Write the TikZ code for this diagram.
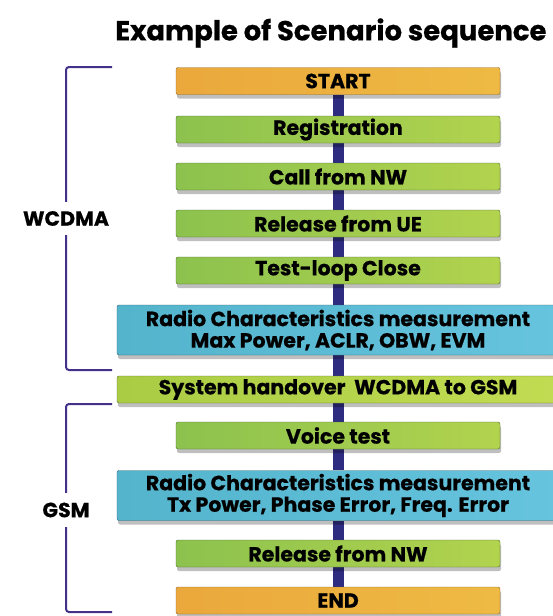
\documentclass[tikz,border=0pt]{standalone}
\usepackage{fontspec}
\setmainfont{Poppins}[BoldFeatures={FakeBold=0.6}]
\usetikzlibrary{shadows,backgrounds}
\definecolor{seqbar}{HTML}{2E2C80}
\definecolor{seqbrk}{HTML}{43318A}
\definecolor{seqorgA}{HTML}{EBA83C}
\definecolor{seqorgB}{HTML}{F3D64E}
\definecolor{seqgrnA}{HTML}{8CC24E}
\definecolor{seqgrnB}{HTML}{A9D25A}
\definecolor{seqgrnC}{HTML}{B2D34E}
\definecolor{seqlimA}{HTML}{A9CC44}
\definecolor{seqlimB}{HTML}{C2DC52}
\definecolor{seqbluA}{HTML}{54B4CC}
\definecolor{seqbluB}{HTML}{66C4DE}

\begin{document}
\begin{tikzpicture}[x=1pt, y=-1pt, font=\bfseries\fontsize{20.5}{21.5}\selectfont,
  box/.style={rounded corners=2pt, inner sep=0pt, align=center, minimum height=27pt,
    drop shadow={shadow xshift=1pt, shadow yshift=-4pt, opacity=0.25, fill=black}},
  endbox/.style={box, minimum width=324pt, left color=seqorgA, middle color=seqorgB, right color=seqorgA!60!seqorgB, draw=seqorgA!60!black, line width=0.4pt},
  stepbox/.style={box, minimum width=324pt, left color=seqgrnA, middle color=seqgrnB, right color=seqgrnC, draw=seqgrnA!55!black, line width=0.4pt},
  hobox/.style={box, minimum width=442pt, left color=seqlimA, right color=seqlimB, draw=seqlimA!55!black, line width=0.4pt},
  radbox/.style={box, minimum width=442pt, minimum height=50pt, left color=seqbluA, right color=seqbluB, draw=seqbluA!55!black, line width=0.4pt},
  bar/.style={seqbar, line width=11pt},
  brk/.style={seqbrk, line width=2pt, rounded corners=3pt},
  tech/.style={inner sep=0pt, minimum width=60pt},
  ttl/.style={font=\bfseries\fontsize{27.5}{29}\selectfont}]
  \useasboundingbox (0,0) rectangle (553,616);
  % ---- title ----
  \node[ttl, anchor=east] (title) at (550,33) {Example of Scenario sequence};
  % ---- WCDMA part ----
  \node[endbox] (start) at (338,81) {START};
  \node[stepbox] (reg) at (338,129.5) {Registration};
  \node[stepbox] (call) at (338,176.5) {Call from NW};
  \node[stepbox] (relue) at (338,223.5) {Release from UE};
  \node[stepbox] (loop) at (338,270.5) {Test-loop Close};
  \node[radbox] (radw) at (338,330) {Radio Characteristics measurement\\Max Power, ACLR, OBW, EVM};
  \node[hobox] (ho) at (338,389.5) {System handover\ \ WCDMA to GSM};
  % ---- GSM part ----
  \node[stepbox] (voice) at (338,435.5) {Voice test};
  \node[radbox] (radg) at (338,495.5) {Radio Characteristics measurement\\Tx Power, Phase Error, Freq. Error};
  \node[stepbox] (relnw) at (338,553.5) {Release from NW};
  \node[endbox] (stop) at (338,600.5) {END};
  % ---- bars behind the boxes ----
  \begin{scope}[on background layer]
    \foreach \a/\b in {start/reg, reg/call, call/relue, relue/loop, loop/radw, radw/ho, ho/voice, voice/radg, radg/relnw, relnw/stop} { \draw[bar] (\a.south) -- (\b.north); }
  \end{scope}
  % ---- brackets ----
  \node[tech, minimum height=33pt] (wcdma) at (66,218.5) {WCDMA};
  \draw[brk] (112,67) -| (wcdma.north);
  \draw[brk] (112,370) -| (wcdma.south);
  \node[tech, minimum height=34pt] (gsm) at (66,510) {GSM};
  \draw[brk] (112,404) -| (gsm.north);
  \draw[brk] (112,612) -| (gsm.south);
\end{tikzpicture}
\end{document}
